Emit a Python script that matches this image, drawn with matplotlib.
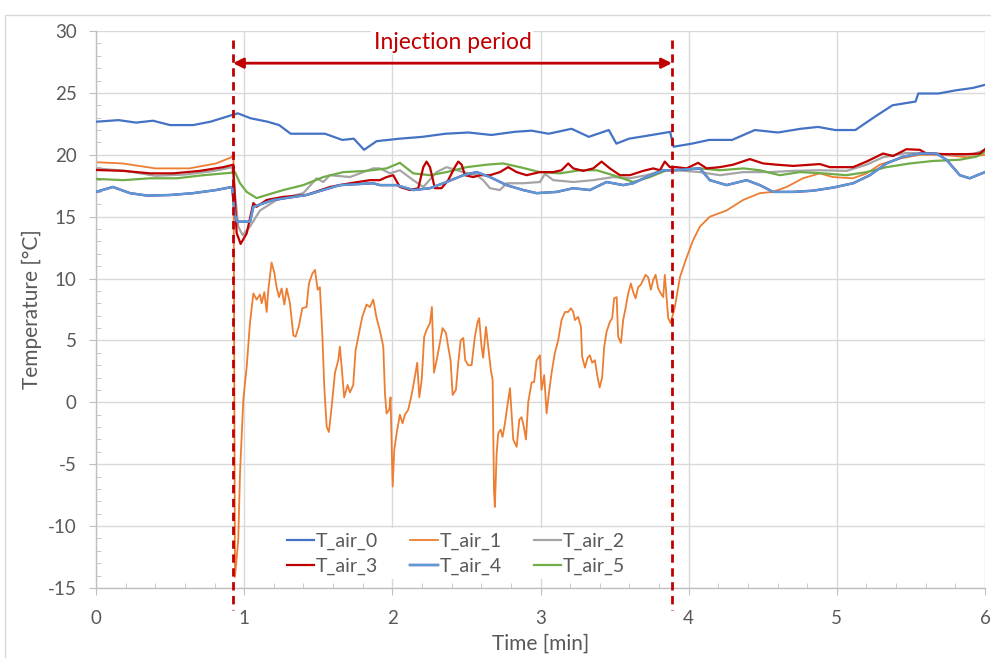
import matplotlib
matplotlib.use("Agg")
import matplotlib.pyplot as plt
from matplotlib.patches import Rectangle
from matplotlib.ticker import MultipleLocator

plt.rcParams['font.family'] = ['Lato', 'DejaVu Sans']
plt.rcParams['axes.unicode_minus'] = False

# ---- measured temperatures ------------------------------------------------
t_air0 = [0.0, 0.153, 0.27, 0.385, 0.50, 0.656, 0.772, 0.888, 0.957, 1.043, 1.159,
          1.236, 1.314, 1.430, 1.546, 1.662, 1.74, 1.809, 1.894, 2.049, 2.204, 2.358,
          2.513, 2.668, 2.823, 2.939, 3.055, 3.21, 3.326, 3.461, 3.512, 3.597, 3.751,
          3.875, 3.898, 4.022, 4.138, 4.293, 4.447, 4.602, 4.757, 4.873, 4.989, 5.125,
          5.26, 5.376, 5.531, 5.55, 5.686, 5.80, 5.918, 6.0]
v_air0 = [22.67, 22.8, 22.6, 22.75, 22.4, 22.4, 22.67, 23.1, 23.35, 22.95, 22.67,
          22.4, 21.7, 21.7, 21.7, 21.2, 21.3, 20.4, 21.1, 21.3, 21.45, 21.7,
          21.8, 21.6, 21.85, 21.95, 21.7, 22.1, 21.45, 22.0, 20.9, 21.3, 21.6,
          21.85, 20.65, 20.9, 21.2, 21.2, 22.0, 21.8, 22.1, 22.25, 22.0, 22.0,
          23.1, 24.0, 24.3, 24.95, 24.95, 25.2, 25.4, 25.65]

t_air1 = [0.0, 0.18, 0.40, 0.63, 0.81, 0.915, 0.928, 0.938, 0.960, 0.972, 0.994,
          1.017, 1.039, 1.062, 1.084, 1.107, 1.118, 1.136, 1.152, 1.163, 1.185,
          1.203, 1.219, 1.235, 1.253, 1.271, 1.287, 1.309, 1.332, 1.347, 1.370,
          1.392, 1.421, 1.437, 1.460, 1.478, 1.496, 1.511, 1.527, 1.541, 1.557,
          1.572, 1.590, 1.613, 1.635, 1.646, 1.658, 1.675, 1.698, 1.714, 1.736,
          1.752, 1.775, 1.797, 1.826, 1.849, 1.871, 1.894, 1.916, 1.939, 1.950,
          1.961, 1.979, 1.988, 2.002, 2.013, 2.029, 2.051, 2.069, 2.085, 2.107,
          2.130, 2.152, 2.168, 2.182, 2.198, 2.215, 2.231, 2.254, 2.267, 2.281,
          2.299, 2.321, 2.339, 2.362, 2.377, 2.393, 2.407, 2.429, 2.445, 2.461,
          2.479, 2.492, 2.512, 2.535, 2.557, 2.576, 2.586, 2.602, 2.613, 2.632,
          2.647, 2.665, 2.677, 2.686, 2.692, 2.704, 2.715, 2.731, 2.744, 2.760,
          2.775, 2.794, 2.805, 2.816, 2.839, 2.857, 2.872, 2.888, 2.902, 2.917,
          2.940, 2.957, 2.974, 2.996, 3.007, 3.025, 3.041, 3.057, 3.075, 3.097,
          3.119, 3.142, 3.165, 3.187, 3.205, 3.221, 3.232, 3.254, 3.273, 3.281,
          3.300, 3.318, 3.333, 3.349, 3.367, 3.385, 3.399, 3.416, 3.430, 3.446,
          3.468, 3.484, 3.497, 3.514, 3.524, 3.543, 3.558, 3.574, 3.592, 3.610,
          3.626, 3.642, 3.659, 3.677, 3.693, 3.709, 3.727, 3.745, 3.761, 3.777,
          3.794, 3.812, 3.828, 3.839, 3.851, 3.862, 3.878, 3.889, 3.907, 3.941,
          3.986, 4.030, 4.076, 4.143, 4.256, 4.368, 4.480, 4.568, 4.661, 4.771,
          4.885, 4.973, 5.108, 5.202, 5.290, 5.425, 5.560, 5.715, 5.877, 6.0]
v_air1 = [19.4, 19.3, 18.9, 18.9, 19.3, 19.8, 20.1, -14.1, -11.1, -5.7, 0.2,
          2.85, 6.4, 8.8, 8.3, 8.7, 8.0, 8.9, 7.3, 9.1, 11.3,
          10.5, 9.3, 8.5, 9.2, 7.9, 9.2, 8.0, 5.4, 5.3, 6.2,
          7.6, 7.7, 9.6, 10.4, 10.7, 9.1, 9.3, 5.6, 1.2, -2.0,
          -2.4, -0.4, 2.4, 3.4, 4.5, 2.85, 0.4, 1.4, 0.8, 1.4,
          4.2, 5.6, 6.9, 7.9, 7.7, 8.3, 6.8, 5.8, 4.5, 0.75,
          -0.9, -0.6, 0.4, -6.8, -3.85, -2.5, -1.0, -1.7, -1.0, -0.6,
          0.6, 2.05, 3.2, 0.4, 1.8, 5.3, 5.85, 6.4, 7.7, 2.4,
          3.4, 4.8, 6.0, 5.6, 4.5, 3.4, 0.6, 1.0, 3.2, 5.0,
          5.2, 3.4, 3.0, 3.0, 5.3, 6.5, 6.8, 4.5, 3.6, 6.1,
          4.5, 2.6, 1.8, -7.1, -8.45, -4.1, -2.5, -2.2, -2.8, -1.7,
          -0.4, 1.15, -0.9, -3.0, -3.6, -1.4, -1.2, -2.0, -3.0, 0.0,
          1.6, 1.65, 3.4, 3.8, 1.0, 2.2, -0.9, 0.75, 2.4, 4.0,
          5.0, 6.65, 7.3, 7.3, 7.6, 7.3, 6.65, 6.9, 6.1, 3.7,
          2.8, 3.6, 3.8, 3.2, 3.4, 2.05, 1.2, 2.0, 4.5, 5.7,
          6.5, 6.8, 8.4, 8.5, 5.3, 4.8, 6.65, 7.6, 8.8, 9.6,
          8.9, 8.4, 9.3, 9.5, 9.9, 10.3, 10.1, 9.1, 9.9, 10.3,
          9.2, 8.8, 8.5, 10.3, 8.5, 6.8, 6.4, 6.9, 7.7, 10.1,
          11.7, 13.1, 14.2, 15.0, 15.5, 16.35, 16.9, 17.0, 17.4, 18.1,
          18.5, 18.2, 18.1, 18.5, 19.2, 19.7, 20.0, 20.0, 19.8, 20.0]

t_air2 = [0.0, 0.2, 0.4, 0.6, 0.8, 0.92, 0.96, 0.99, 1.039, 1.107, 1.219, 1.399,
          1.489, 1.534, 1.579, 1.714, 1.871, 1.916, 1.984, 2.051, 2.141, 2.209,
          2.299, 2.366, 2.479, 2.569, 2.613, 2.659, 2.726, 2.771, 2.883, 2.996,
          3.03, 3.086, 3.221, 3.356, 3.491, 3.603, 3.716, 3.828, 3.918, 4.076,
          4.211, 4.368, 4.548, 4.705, 4.885, 5.065, 5.20, 5.312, 5.47, 5.605,
          5.785, 5.92, 6.0]
v_air2 = [18.9, 18.7, 18.3, 18.4, 18.7, 19.0, 14.2, 13.5, 14.2, 15.5, 16.35, 16.9,
          18.1, 17.8, 18.35, 18.2, 18.9, 18.9, 18.5, 18.75, 17.95, 17.4,
          18.6, 19.0, 18.6, 18.35, 17.95, 17.3, 17.15, 17.7, 17.7, 17.8,
          18.45, 17.95, 17.8, 17.95, 18.2, 18.1, 18.35, 18.75, 18.75, 18.6,
          18.35, 18.6, 18.6, 18.7, 18.75, 18.7, 19.2, 19.8, 20.15, 20.1,
          20.0, 20.05, 20.4]

t_air3 = [0.0, 0.184, 0.364, 0.522, 0.702, 0.859, 0.926, 0.938, 0.949, 0.976, 1.017,
          1.062, 1.084, 1.152, 1.264, 1.42, 1.579, 1.714, 1.849, 1.916, 1.961,
          2.006, 2.051, 2.119, 2.175, 2.209, 2.231, 2.254, 2.287, 2.332, 2.377,
          2.422, 2.445, 2.468, 2.49, 2.546, 2.591, 2.659, 2.726, 2.782, 2.839,
          2.906, 2.996, 3.086, 3.142, 3.187, 3.221, 3.288, 3.356, 3.412, 3.468,
          3.536, 3.603, 3.693, 3.761, 3.806, 3.839, 3.873, 3.918, 3.986, 4.064,
          4.121, 4.211, 4.30, 4.413, 4.503, 4.593, 4.705, 4.885, 4.953, 5.11,
          5.20, 5.312, 5.38, 5.47, 5.56, 5.605, 5.74, 5.875, 5.965, 6.0]
v_air3 = [18.77, 18.7, 18.5, 18.5, 18.7, 19.0, 19.2, 16.35, 13.7, 12.8, 13.65,
          16.1, 15.8, 16.35, 16.6, 16.75, 17.4, 17.7, 17.95, 17.95, 18.2,
          18.35, 17.4, 17.15, 17.3, 19.0, 19.45, 19.0, 17.3, 17.3, 17.95,
          19.0, 19.45, 19.2, 18.35, 18.2, 18.35, 18.35, 18.6, 19.0, 18.6,
          18.35, 18.6, 18.6, 18.75, 19.3, 18.9, 18.7, 18.9, 19.45, 18.9,
          18.35, 18.35, 18.7, 18.9, 18.75, 19.45, 19.0, 19.0, 18.9, 19.35,
          18.9, 19.0, 19.2, 19.65, 19.3, 19.2, 19.1, 19.25, 19.0, 19.0,
          19.45, 20.1, 19.9, 20.45, 20.4, 20.1, 20.05, 20.05, 20.1, 20.45]

t_air4 = [0.0, 0.114, 0.23, 0.346, 0.50, 0.656, 0.81, 0.919, 0.935, 0.95, 1.04,
          1.062, 1.197, 1.42, 1.646, 1.871, 1.916, 2.029, 2.141, 2.254, 2.366,
          2.479, 2.569, 2.659, 2.771, 2.883, 2.974, 3.109, 3.221, 3.333, 3.446,
          3.558, 3.626, 3.716, 3.828, 3.896, 4.076, 4.143, 4.256, 4.391, 4.48,
          4.570, 4.705, 4.840, 4.975, 5.11, 5.223, 5.335, 5.448, 5.56, 5.673,
          5.74, 5.83, 5.897, 6.0]
v_air4 = [17.0, 17.4, 16.9, 16.7, 16.75, 16.9, 17.15, 17.4, 15.3, 14.6, 14.6,
          15.8, 16.35, 16.75, 17.55, 17.7, 17.55, 17.55, 17.15, 17.3, 17.8,
          18.35, 18.6, 18.2, 17.55, 17.15, 16.9, 17.0, 17.3, 17.15, 17.8,
          17.55, 17.7, 18.2, 18.75, 18.75, 18.9, 17.95, 17.55, 17.95, 17.55,
          17.0, 17.0, 17.1, 17.35, 17.7, 18.35, 19.3, 19.85, 20.1, 20.1,
          19.6, 18.35, 18.1, 18.6]

t_air5 = [0.0, 0.184, 0.364, 0.545, 0.724, 0.916, 0.938, 0.972, 1.017, 1.084, 1.152,
          1.264, 1.399, 1.534, 1.669, 1.826, 1.961, 2.051, 2.141, 2.254, 2.366,
          2.501, 2.636, 2.748, 2.861, 2.996, 3.131, 3.266, 3.378, 3.491, 3.626,
          3.738, 3.851, 3.918, 4.076, 4.211, 4.368, 4.48, 4.615, 4.75, 4.907,
          5.065, 5.20, 5.335, 5.493, 5.65, 5.83, 5.943, 6.0]
v_air5 = [18.05, 17.95, 18.1, 18.1, 18.35, 18.55, 18.6, 17.7, 17.0, 16.5, 16.75,
          17.15, 17.55, 18.2, 18.6, 18.7, 18.9, 19.35, 18.5, 18.35, 18.6,
          19.0, 19.2, 19.3, 19.0, 18.6, 18.5, 18.75, 18.75, 18.35, 17.8,
          18.2, 18.75, 18.75, 18.9, 18.75, 18.9, 18.75, 18.35, 18.6, 18.5,
          18.35, 18.6, 19.0, 19.3, 19.5, 19.6, 19.85, 20.25]

injection_start = 0.925
injection_end = 3.887

series_names = ["T_air_0", "T_air_1", "T_air_2", "T_air_3", "T_air_4", "T_air_5"]
series_colors = ["#4472C4", "#ED7D31", "#A5A5A5", "#C00000", "#7030A0", "#70AD47"]
overlay_color = "#5B9BD5"

# ---- figure -----------------------------------------------------------------
fig = plt.figure(figsize=(9.91, 6.58), dpi=100)
ax = fig.add_axes([96 / 991, 1 - 588 / 658, 889 / 991, 557 / 658])

text_gray = "#595959"
grid_gray = "#D9D9D9"

# outer chart-area border
fig.add_artist(Rectangle((5 / 991, -0.1), 1.2, 1 - 15 / 658 + 0.1,
                         transform=fig.transFigure, fill=False,
                         edgecolor=grid_gray, linewidth=1.0))

ax.set_xlim(0, 6)
ax.set_ylim(-15, 30)
ax.xaxis.set_major_locator(MultipleLocator(1))
ax.xaxis.set_minor_locator(MultipleLocator(0.2))
ax.yaxis.set_major_locator(MultipleLocator(5))
ax.yaxis.set_minor_locator(MultipleLocator(1))
ax.grid(True, which="major", color=grid_gray, linewidth=1.0, zorder=0)
ax.set_axisbelow(True)

for side in ("top", "right"):
    ax.spines[side].set_visible(False)
for side in ("left", "bottom"):
    ax.spines[side].set_color("#BFBFBF")
    ax.spines[side].set_linewidth(1.0)

ax.tick_params(axis="both", which="major", direction="out", length=5,
               color="#BFBFBF", labelcolor=text_gray, labelsize=13.5)
ax.tick_params(axis="both", which="minor", direction="in", length=3.5,
               color="#BFBFBF")
ax.tick_params(axis="x", which="major", pad=11)
ax.tick_params(axis="y", which="major", pad=9)

lw = 1.6
l0, = ax.plot(t_air0, v_air0, color=series_colors[0], lw=lw, zorder=3)
l1, = ax.plot(t_air1, v_air1, color=series_colors[1], lw=1.3, zorder=2)
l2, = ax.plot(t_air2, v_air2, color=series_colors[2], lw=lw, zorder=3)
l3, = ax.plot(t_air3, v_air3, color=series_colors[3], lw=lw, zorder=4)
l4, = ax.plot(t_air4, v_air4, color=series_colors[4], lw=lw + 0.15, zorder=4)
l4b, = ax.plot(t_air4, v_air4, color=overlay_color, lw=lw, zorder=4.1)
l5, = ax.plot(t_air5, v_air5, color=series_colors[5], lw=lw, zorder=3)

# injection window markers
for xv in (injection_start, injection_end):
    ax.plot([xv, xv], [29.3, -16.8], color="#C00000", lw=2.0,
            linestyle=(0, (3.0, 2.0)), clip_on=False, zorder=6)

ax.annotate("", xy=(injection_start, 27.4), xytext=(injection_end, 27.4),
            arrowprops=dict(arrowstyle="<|-|>", color="#C00000", lw=2.0,
                            mutation_scale=15, shrinkA=0, shrinkB=0),
            zorder=6)
ax.text((injection_start + injection_end) / 2, 29.1, "Injection period",
        color="#C00000", fontsize=16.5, ha="center", va="center", zorder=7,
        bbox=dict(facecolor="white", edgecolor="none", pad=1.5))

ax.set_xlabel("Time [min]", color=text_gray, fontsize=15, labelpad=5)
ax.set_ylabel("Temperature [°C]", color=text_gray, fontsize=15, labelpad=4)

# legend filled row by row: matplotlib fills by column, so interleave
handles = [l0, l1, l2, l3, (l4, l4b), l5]
order = [0, 3, 1, 4, 2, 5]
leg = ax.legend([handles[i] for i in order], [series_names[i] for i in order],
                loc="center", bbox_to_anchor=(0.405, 0.062),
                ncol=3, fontsize=14, frameon=True, facecolor="white",
                edgecolor="none", framealpha=1.0, handlelength=1.4,
                handletextpad=0.1, columnspacing=1.65, labelspacing=0.4,
                borderpad=0.2, fancybox=False)
for txt in leg.get_texts():
    txt.set_color(text_gray)
leg.set_zorder(8)

fig.savefig("out.png", dpi=100)
